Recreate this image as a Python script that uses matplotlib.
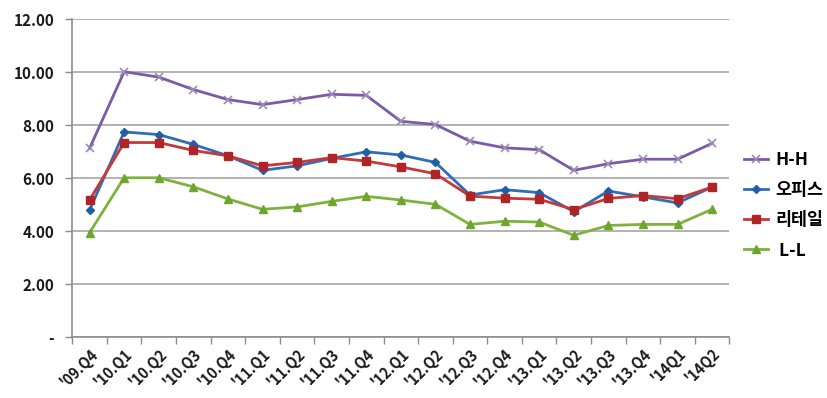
import matplotlib
matplotlib.use('Agg')
import matplotlib.pyplot as plt
import numpy as np

plt.rcParams['font.family'] = ['Noto Sans CJK KR', 'DejaVu Sans']

quarters = ["'09.Q4", "'10.Q1", "'10.Q2", "'10.Q3", "'10.Q4", "'11.Q1", "'11.Q2",
            "'11.Q3", "'11.Q4", "'12.Q1", "'12.Q2", "'12.Q3", "'12.Q4", "'13.Q1",
            "'13.Q2", "'13.Q3", "'13.Q4", "'14Q1", "'14Q2"]
hh = [7.13, 10.02, 9.82, 9.35, 8.97, 8.78, 8.97, 9.17, 9.13, 8.15, 8.03,
      7.40, 7.15, 7.08, 6.30, 6.55, 6.72, 6.72, 7.32]
office = [4.80, 7.75, 7.65, 7.28, 6.85, 6.30, 6.47, 6.75, 7.00, 6.88, 6.60,
          5.37, 5.57, 5.46, 4.74, 5.52, 5.30, 5.07, 5.67]
retail = [5.18, 7.35, 7.35, 7.05, 6.85, 6.47, 6.60, 6.78, 6.65, 6.43, 6.17,
          5.33, 5.25, 5.21, 4.82, 5.24, 5.35, 5.23, 5.67]
ll = [3.95, 6.02, 6.02, 5.68, 5.22, 4.83, 4.92, 5.13, 5.32, 5.18, 5.02,
      4.26, 4.38, 4.35, 3.85, 4.22, 4.26, 4.26, 4.83]
yticks = [0, 2, 4, 6, 8, 10, 12]
ylabels = ['-', '2.00', '4.00', '6.00', '8.00', '10.00', '12.00']

fig = plt.figure(figsize=(8.27, 3.98), dpi=100)
ax = fig.add_axes([0.0874, 0.1525, 0.7946, 0.799])

x = np.arange(len(quarters))
ax.plot(x, hh, color='#7B5BA6', lw=2, marker='x', ms=6, mew=1.2,
        mec='#9A8CB8', label='H-H')
ax.plot(x, office, color='#2F6DB8', lw=2, marker='D', ms=4.5,
        mfc='#1F5FA8', mec='#1F5FA8', label='오피스')
ax.plot(x, retail, color='#C4393A', lw=2, marker='s', ms=6,
        mfc='#B02428', mec='#B02428', label='리테일')
ax.plot(x, ll, color='#7FB23C', lw=2, marker='^', ms=6,
        mfc='#6EA52E', mec='#6EA52E', label=' L-L')

ax.set_xlim(-0.5, len(quarters) - 0.5)
ax.set_ylim(0, 12)
ax.set_yticks(yticks)
ax.set_yticklabels(ylabels, fontsize=11, fontweight='bold', color='#1a1a1a')
ax.grid(axis='y', color='#a6a6a6', lw=1.2)
ax.set_axisbelow(True)

ax.set_xticks(x)
ax.set_xticklabels(quarters, rotation=45, ha='right', rotation_mode='anchor',
                   fontsize=10.5, fontweight='bold', color='#1a1a1a')
ax.set_xticks(np.arange(-0.5, len(quarters)), minor=True)
ax.tick_params(axis='x', which='major', length=0, pad=6)
ax.tick_params(axis='x', which='minor', length=5, color='#8c8c8c', width=1)
ax.tick_params(axis='y', length=5, color='#8c8c8c', width=1, pad=8)

for s in ['top', 'right']:
    ax.spines[s].set_visible(False)
for s in ['left', 'bottom']:
    ax.spines[s].set_color('#8c8c8c')
    ax.spines[s].set_linewidth(1.2)

ax.legend(loc='center left', bbox_to_anchor=(0.998, 0.415), frameon=False,
          prop={'size': 12.5, 'weight': 'bold'}, handlelength=1.4,
          labelspacing=0.7, handletextpad=0.4)

fig.savefig('out.png', dpi=100)
